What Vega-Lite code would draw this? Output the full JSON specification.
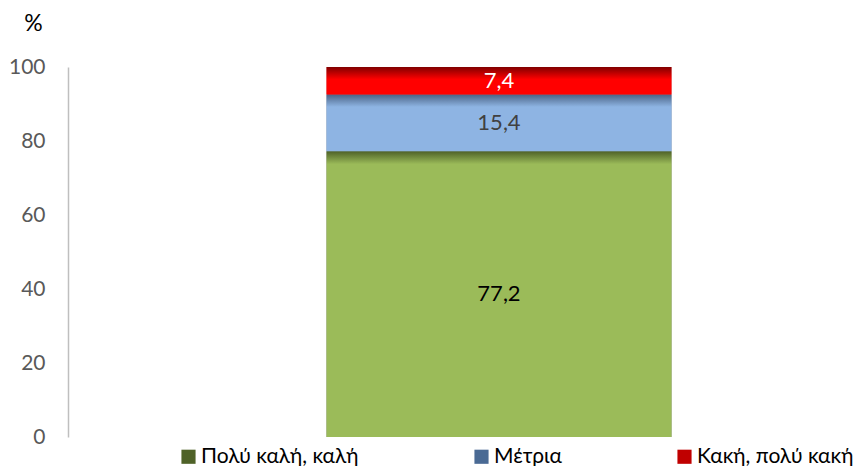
{
  "$schema": "https://vega.github.io/schema/vega-lite/v6.json",
  "width": 862,
  "height": 370,
  "autosize": "none",
  "padding": {"left": 68, "top": 67, "right": 0, "bottom": 29},
  "config": {
    "view": {"stroke": null},
    "font": "Lato",
    "locale": {"number": {"decimal": ",", "thousands": ".", "grouping": [3], "currency": ["", " €"]}}
  },
  "data": {
    "values": [
      {"g": "A", "cat": "Πολύ καλή, καλή", "v": 77.2},
      {"g": "A", "cat": "Μέτρια", "v": 15.4},
      {"g": "A", "cat": "Κακή, πολύ κακή", "v": 7.4}
    ]
  },
  "transform": [
    {"stack": "v", "groupby": ["g"], "sort": [{"field": "cat", "order": "descending"}], "as": ["y0", "y1"]}
  ],
  "encoding": {
    "x": {"field": "g", "type": "nominal", "axis": null, "scale": {"paddingInner": 0, "paddingOuter": 0.75}}
  },
  "layer": [
    {
      "mark": {"type": "bar"},
      "encoding": {
        "y": {
          "field": "y1", "type": "quantitative",
          "scale": {"domain": [0, 100], "nice": false},
          "axis": {
            "values": [0, 20, 40, 60, 80, 100],
            "grid": false, "ticks": false,
            "domainColor": "#BFBFBF", "domainWidth": 1.5,
            "labelColor": "#595959", "labelFontSize": 21, "labelPadding": 23, "labelFont": "Lato",
            "title": "%", "titleAngle": 0, "titleX": -35, "titleY": -44,
            "titleAlign": "center", "titleBaseline": "middle",
            "titleFontWeight": "normal", "titleFontSize": 23, "titleColor": "#000000", "titleFont": "Lato"
          }
        },
        "y2": {"field": "y0"},
        "color": {
          "field": "cat", "type": "nominal",
          "scale": {
            "domain": ["Πολύ καλή, καλή", "Μέτρια", "Κακή, πολύ κακή"],
            "range": ["#4F6228", "#4A6A94", "#C00000"]
          },
          "legend": {
            "title": null, "orient": "none", "direction": "horizontal",
            "legendX": 110, "legendY": 379,
            "symbolType": "square", "symbolSize": 200, "symbolStrokeWidth": 0,
            "labelFontSize": 21, "labelColor": "#000000", "labelFont": "Lato",
            "labelOffset": 2, "columnPadding": 112, "labelLimit": 400
          }
        }
      }
    },
    {
      "transform": [{"filter": {"field": "cat", "equal": "Πολύ καλή, καλή"}}],
      "mark": {"type": "bar", "color": {"gradient": "linear", "x1": 0, "y1": 0, "x2": 0, "y2": 1,
        "stops": [{"offset": 0, "color": "#4F6228"}, {"offset": 0.045, "color": "#9BBB59"}, {"offset": 1, "color": "#9BBB59"}]}},
      "encoding": {"y": {"field": "y1", "type": "quantitative"}, "y2": {"field": "y0"}}
    },
    {
      "transform": [{"filter": {"field": "cat", "equal": "Μέτρια"}}],
      "mark": {"type": "bar", "color": {"gradient": "linear", "x1": 0, "y1": 0, "x2": 0, "y2": 1,
        "stops": [{"offset": 0, "color": "#4A6285"}, {"offset": 0.22, "color": "#8EB4E3"}, {"offset": 1, "color": "#8EB4E3"}]}},
      "encoding": {"y": {"field": "y1", "type": "quantitative"}, "y2": {"field": "y0"}}
    },
    {
      "transform": [{"filter": {"field": "cat", "equal": "Κακή, πολύ κακή"}}],
      "mark": {"type": "bar", "color": {"gradient": "linear", "x1": 0, "y1": 0, "x2": 0, "y2": 1,
        "stops": [{"offset": 0, "color": "#800000"}, {"offset": 0.45, "color": "#FF0000"}, {"offset": 1, "color": "#FF0000"}]}},
      "encoding": {"y": {"field": "y1", "type": "quantitative"}, "y2": {"field": "y0"}}
    },
    {
      "transform": [{"calculate": "(datum.y0 + datum.y1) / 2", "as": "mid"}],
      "mark": {"type": "text", "fontSize": 22, "font": "Lato", "baseline": "middle", "align": "center"},
      "encoding": {
        "y": {"field": "mid", "type": "quantitative"},
        "text": {"field": "v", "type": "quantitative", "format": ".1f"},
        "color": {
          "condition": [
            {"test": "datum.cat === 'Κακή, πολύ κακή'", "value": "#FFFFFF"},
            {"test": "datum.cat === 'Μέτρια'", "value": "#404040"}
          ],
          "value": "#000000"
        }
      }
    }
  ]
}
